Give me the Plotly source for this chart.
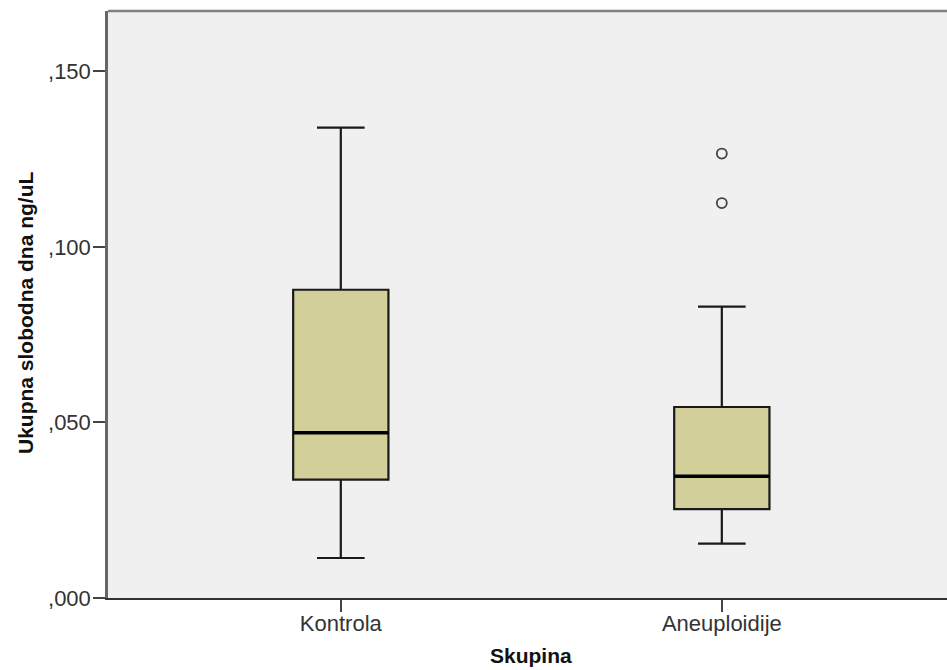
import plotly.graph_objects as go

categories = ["Kontrola", "Aneuploidije"]
lower_whisker = [0.0114, 0.0155]
q1_values = [0.0337, 0.0253]
median_values = [0.0471, 0.0347]
q3_values = [0.0878, 0.0544]
upper_whisker = [0.1340, 0.0830]
outlier_group = [1, 1]
outlier_values = [0.1266, 0.1125]
y_tickvals = [0.0, 0.05, 0.10, 0.15]
y_ticktext = [",000", ",050", ",100", ",150"]

BOX_W = 0.25
positions = list(range(len(categories)))

fig = go.Figure()
fig.add_trace(go.Box(
    x=positions, q1=q1_values, median=median_values, q3=q3_values,
    lowerfence=lower_whisker, upperfence=upper_whisker,
    width=BOX_W, whiskerwidth=0.5, boxpoints=False,
    fillcolor="#D3CF9A", line=dict(color="#1a1a1a", width=2.2),
    hoverinfo="skip", showlegend=False,
))

mx, my = [], []
for p, m in zip(positions, median_values):
    mx += [p - BOX_W / 2, p + BOX_W / 2, None]
    my += [m, m, None]
fig.add_trace(go.Scatter(x=mx, y=my, mode="lines",
                         line=dict(color="#000000", width=3.5),
                         hoverinfo="skip", showlegend=False))

fig.add_trace(go.Scatter(x=outlier_group, y=outlier_values, mode="markers",
                         marker=dict(symbol="circle-open", size=10,
                                     color="#444444", line=dict(width=1.8)),
                         hoverinfo="skip", showlegend=False))

fig.update_layout(
    width=947, height=670, autosize=False,
    margin=dict(l=108, r=0, t=11, b=72),
    paper_bgcolor="white", plot_bgcolor="#F0F0F0",
    font=dict(family="Liberation Sans, Arial, sans-serif", size=22, color="#333333"),
    xaxis=dict(range=[-0.611, 1.591], tickvals=positions, ticktext=categories,
               showgrid=False, zeroline=False, showline=True,
               linecolor="#333333", linewidth=2,
               ticks="outside", ticklen=12, tickwidth=2, tickcolor="#444444",
               ticklabelstandoff=-7),
    yaxis=dict(range=[0, 0.1672], tickvals=y_tickvals, ticktext=y_ticktext,
               showgrid=False, zeroline=False, showline=True,
               linecolor="#666666", linewidth=2.5,
               ticks="outside", ticklen=12, tickwidth=2, tickcolor="#444444",
               ticklabelstandoff=-2),
    shapes=[dict(type="line", xref="paper", yref="paper", x0=0, x1=1, y0=1, y1=1,
                 line=dict(color="#808080", width=2.5))],
    annotations=[
        dict(text="<b>Ukupna slobodna dna ng/uL</b>", xref="paper", yref="paper",
             x=(25 - 108) / 839, y=(598 - 313) / 587, textangle=-90,
             showarrow=False, xanchor="center", yanchor="middle",
             font=dict(size=21, color="#111111")),
        dict(text="<b>Skupina</b>", xref="paper", yref="paper",
             x=(531 - 108) / 839, y=(598 - 655) / 587,
             showarrow=False, xanchor="center", yanchor="middle",
             font=dict(size=21, color="#111111")),
    ],
)

fig.write_html("out.html", config={"displayModeBar": False},
               post_script="document.body.style.margin='0';")
